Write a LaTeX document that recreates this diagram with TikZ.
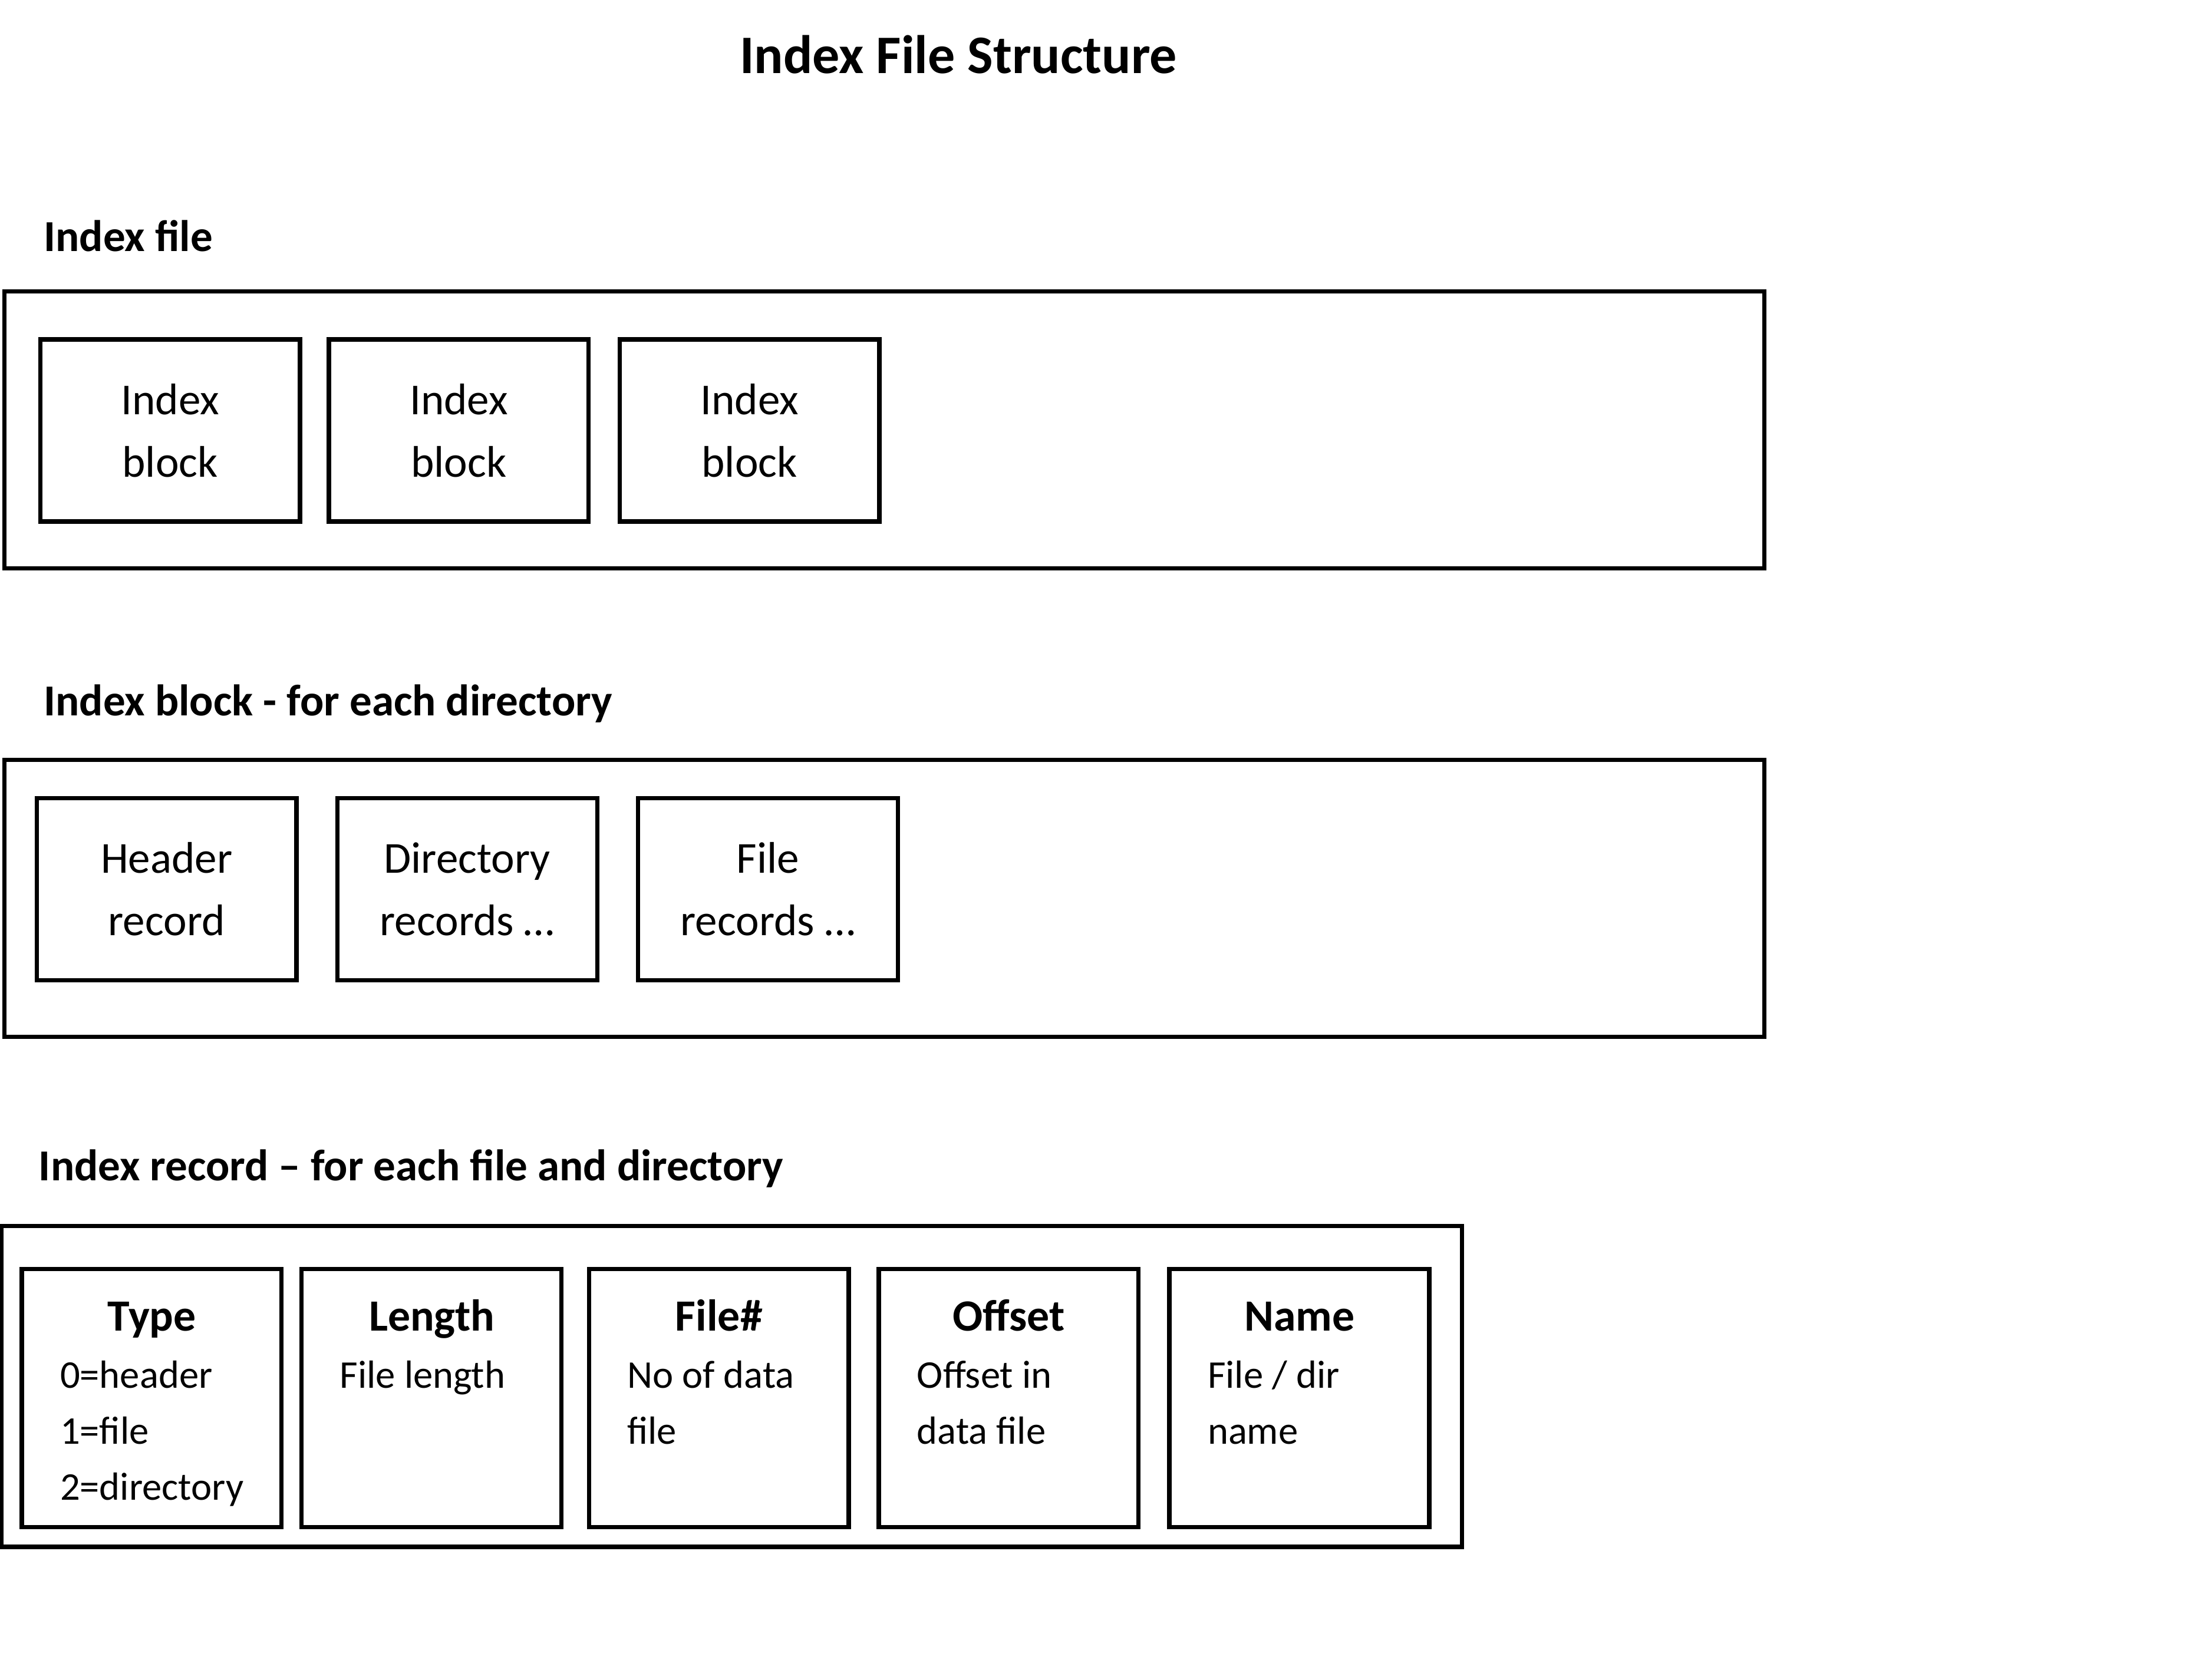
\documentclass[tikz,border=0pt]{standalone}
\usepackage{fontspec}
\setmainfont{Carlito}
\usepackage{tikz}
\usetikzlibrary{positioning}
\tikzstyle{frame}=[draw, line width=1.1pt, inner sep=0pt]
\tikzstyle{box}=[draw, line width=1.1pt, minimum width=67.5pt, minimum height=47.3pt, align=center, font=\fontsize{11.5}{16.2}\selectfont]
\tikzstyle{rec}=[draw, line width=1.1pt, minimum width=67.5pt, minimum height=67.1pt]
\tikzstyle{rectext}=[inner sep=0pt, align=left, font=\fontsize{10.2}{14.5}\selectfont]
\tikzstyle{heading}=[inner sep=0pt, anchor=base west, font=\bfseries\fontsize{11.5}{13}\selectfont]
\newcommand{\rechead}[1]{\makebox[47.7pt]{\rule{0pt}{10pt}\fontsize{11.6}{14}\selectfont\textbf{#1}}\\[0.5pt]}

\begin{document}
\begin{tikzpicture}[x=0.3667pt, y=-0.3667pt]
            \useasboundingbox (0,0) rectangle (1567,1176);
            \node [inner sep=0pt, anchor=base, font=\bfseries\fontsize{14.1}{17}\selectfont] (title) at (679,52) {Index File Structure};
            % index file
            \node [heading] (fileh) at (30.5,178) {Index file};
            \node [frame, minimum width=457.3pt, minimum height=71.9pt] (file) at (626.5,304.5) {};
            \node [box] (ib1) at (120.5,305) {Index\\block};
            \node [box, right of=ib1, node distance=75pt] (ib2) {Index\\block};
            \node [box, right of=ib2, node distance=75.5pt] (ib3) {Index\\block};
            % index block
            \node [heading] (blockh) at (30.5,507) {Index block - for each directory};
            \node [frame, minimum width=457.3pt, minimum height=71.9pt] (block) at (626.5,636.5) {};
            \node [box] (hdr) at (118,630) {Header\\record};
            \node [box, right of=hdr, node distance=78.1pt] (dirs) {Directory\\records …};
            \node [box, right of=dirs, node distance=78.1pt] (files) {File\\records …};
            % index record
            \node [heading] (recordh) at (27,836.5) {Index record – for each file and directory};
            \node [frame, minimum width=379.4pt, minimum height=83.4pt] (record) at (518.3,982.3) {};
            \node [rec] (type) at (107.5,990.5) {};
            \node [rec, right of=type, node distance=72.7pt] (length) {};
            \node [rec, right of=length, node distance=74.6pt] (fnum) {};
            \node [rec, right of=fnum, node distance=75.3pt] (offset) {};
            \node [rec, right of=offset, node distance=75.5pt] (name) {};
            \node [rectext, below right=6.4pt and 10.3pt of type.north west] (typet) {\rechead{Type}0=header\\1=file\\2=directory};
            \node [rectext, below right=6.4pt and 10.3pt of length.north west] (lengtht) {\rechead{Length}File length};
            \node [rectext, below right=6.4pt and 10.3pt of fnum.north west] (fnumt) {\rechead{File\#}No of data\\file};
            \node [rectext, below right=6.4pt and 10.3pt of offset.north west] (offsett) {\rechead{Offset}Offset in\\data file};
            \node [rectext, below right=6.4pt and 10.3pt of name.north west] (namet) {\rechead{Name}File / dir\\name};
        \end{tikzpicture}
\end{document}
